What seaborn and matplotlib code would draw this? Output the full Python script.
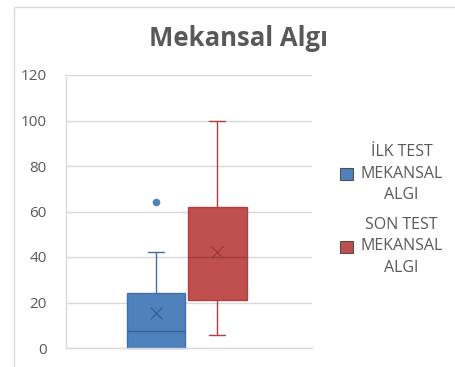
import matplotlib
matplotlib.use("Agg")
import matplotlib.pyplot as plt
from matplotlib.patches import Rectangle
import seaborn as sns
import pandas as pd

# ---- data (estimated raw scores reproducing the box statistics) ----
series_names = ["İLK TEST\nMEKANSAL\nALGI", "SON TEST\nMEKANSAL\nALGI"]
ilk_test = [0, 0, 0, 0, 0, 2, 7.5, 10, 14, 24, 38, 42, 64]
son_test = [5.5, 10, 15, 21, 28, 35, 40, 45, 55, 62, 62, 67.5, 100]
y_ticks = [0, 20, 40, 60, 80, 100, 120]
title = "Mekansal Algı"

fill_colors = ["#4F81BD", "#C0504D"]
edge_colors = ["#3F6FAD", "#B0403D"]
median_colors = ["#3464A0", "#A23C39"]

df = pd.DataFrame({
    "cat": [""] * (len(ilk_test) + len(son_test)),
    "value": ilk_test + son_test,
    "series": [series_names[0]] * len(ilk_test) + [series_names[1]] * len(son_test),
})

sns.set_style("white")
plt.rcParams["font.family"] = ["Open Sans", "DejaVu Sans"]

fig = plt.figure(figsize=(4.56, 3.67), dpi=100)
ax = fig.add_axes([66 / 456, 19 / 367, 246 / 456, 273 / 367])

sns.boxplot(
    data=df, x="cat", y="value", hue="series", hue_order=series_names,
    palette=fill_colors, width=0.5, gap=0.05, whis=1.5, linewidth=1,
    showmeans=True, saturation=1,
    meanprops=dict(marker="x", markersize=8, markeredgewidth=1),
    flierprops=dict(marker="o", markersize=4.5),
    ax=ax, legend=True,
)

for i, cont in enumerate(ax.containers):
    ec = edge_colors[i]
    for b in cont.boxes:
        b.set_edgecolor(ec)
        b.set_facecolor(fill_colors[i])
        b.set_clip_on(False)
    for w in cont.whiskers:
        w.set_color(ec)
    for c in cont.caps:
        c.set_color(ec)
        xd = c.get_xdata()
        mid = (xd[0] + xd[1]) / 2
        half = (xd[1] - xd[0]) / 2 * 0.55
        c.set_xdata([mid - half, mid + half])
    for m in cont.medians:
        m.set_color(median_colors[i])
    for f in cont.fliers:
        f.set_markerfacecolor(fill_colors[i])
        f.set_markeredgecolor(fill_colors[i])
    for mn in cont.means:
        mn.set_markeredgecolor(median_colors[i])
        mn.set_markerfacecolor(median_colors[i])

ax.set_xlim(-0.49, 0.51)
ax.set_ylim(0, 120)
ax.set_yticks(y_ticks)
ax.set_yticklabels([str(t) for t in y_ticks])
ax.tick_params(axis="y", length=0, labelsize=11, labelcolor="#595959", pad=14)
ax.tick_params(axis="x", length=0, labelbottom=False)
ax.set_xlabel("")
ax.set_ylabel("")
ax.grid(axis="y", color="#D9D9D9", linewidth=1)
ax.set_axisbelow(True)
for s in ["top", "right"]:
    ax.spines[s].set_visible(False)
for s in ["bottom", "left"]:
    ax.spines[s].set_color("#D9D9D9")
    ax.spines[s].set_linewidth(1)

# legend
handles, labels = ax.get_legend_handles_labels()
leg = ax.legend(
    handles, labels, loc="center left", bbox_to_anchor=(326 / 456, 1 - 210 / 367),
    bbox_transform=fig.transFigure, frameon=False, fontsize=11.5,
    handlelength=0.8, handleheight=0.8, handletextpad=0.45, labelspacing=0.85,
    labelcolor="#595959",
)
for t in leg.get_texts():
    t.set_multialignment("center")
    t.set_linespacing(1.45)
for h in leg.legend_handles:
    h.set_linewidth(0.8)

fig.text(239 / 456, 1 - 38 / 367, title, ha="center", va="center",
         fontsize=18.5, fontweight="bold", color="#595959")

# chart border (partially cropped)
fig.add_artist(Rectangle((14 / 456, -0.2), 2, 1.2 - 7 / 367,
                         transform=fig.transFigure, fill=False,
                         edgecolor="#D9D9D9", linewidth=1))

fig.savefig("out.png", dpi=100)
